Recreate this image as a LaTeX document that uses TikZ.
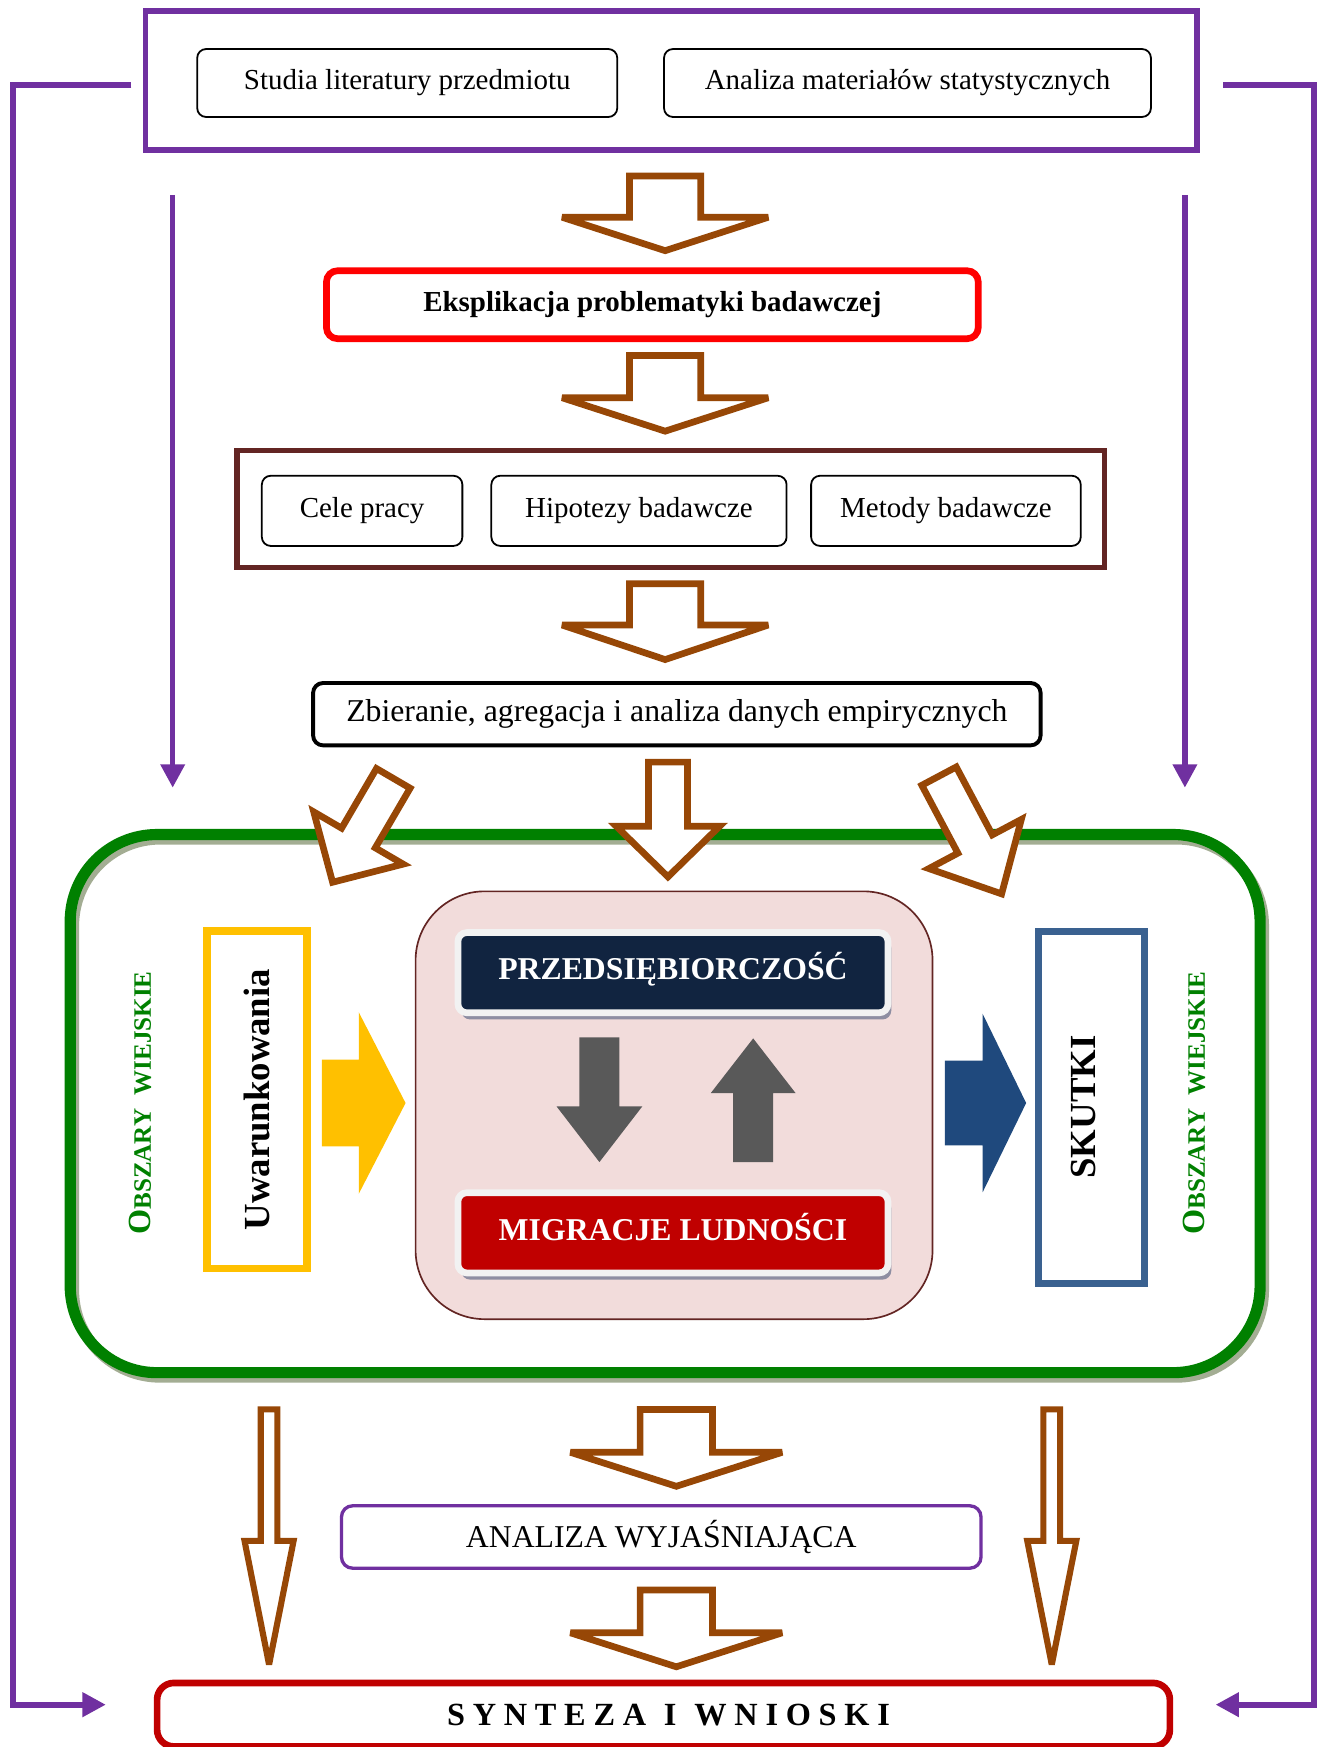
\documentclass[tikz,border=0pt]{standalone}
\usepackage{fontspec}
\setmainfont{Liberation Serif}
\newfontfamily\spacedfont[LetterSpace=24]{Liberation Serif}
\usetikzlibrary{shadows,arrows.meta}

\definecolor{purp}{HTML}{7030A0}
\definecolor{brownar}{HTML}{974706}
\definecolor{brightred}{HTML}{FF0000}
\definecolor{darkred}{HTML}{C00000}
\definecolor{maroon}{HTML}{632523}
\definecolor{grn}{HTML}{008000}
\definecolor{grnshadow}{HTML}{A3AD93}
\definecolor{yel}{HTML}{FFC000}
\definecolor{bluear}{HTML}{1F497D}
\definecolor{bluebox}{HTML}{3A6190}
\definecolor{navy}{HTML}{112440}
\definecolor{pinkfill}{HTML}{F2DCDB}
\definecolor{grayar}{HTML}{595959}
\definecolor{framegray}{HTML}{F2F2F2}
\definecolor{shadowgray}{HTML}{8E8EA2}

% #1 style, #2 x, #3 y (tail centre), #4 angle, #5 length, #6 shaft width, #7 head width, #8 head length
\newcommand{\blockarrow}[8][]{%
  \begin{scope}[shift={(#2,#3)}, rotate=#4]
    \path[#1] (0,{-(#6)/2}) -- ({#5-#8},{-(#6)/2}) -- ({#5-#8},{-(#7)/2}) -- (#5,0)
      -- ({#5-#8},{(#7)/2}) -- ({#5-#8},{(#6)/2}) -- (0,{(#6)/2}) -- cycle;
  \end{scope}}

\begin{document}
\begin{tikzpicture}[x=1pt,y=-1pt,
  smallbox/.style={draw=black, line width=1.6pt, rounded corners=8pt, fill=white, inner sep=0pt,
    minimum height=63pt, font=\fontsize{26}{30}\selectfont},
  navybox/.style={draw=framegray, line width=6pt, rounded corners=8pt, minimum width=386pt,
    minimum height=72pt, inner sep=0pt, text=white, text height=13pt, text depth=0pt,
    font=\bfseries\fontsize{28.5}{32}\selectfont,
    drop shadow={shadow xshift=3pt, shadow yshift=-6pt, fill=shadowgray, opacity=1}},
  brownarrow/.style={draw=brownar, line width=6pt, fill=white, line join=miter, miter limit=4},
  purpline/.style={draw=purp, line width=5.5pt, line join=miter, -{Triangle[length=21pt,width=21pt]}},
  sidetext/.style={rotate=90, text=grn, inner sep=0pt, font=\bfseries}
]
\useasboundingbox (0,0) rectangle (1182,1568);

% top
\node[draw=purp, line width=5pt, minimum width=944pt, minimum height=124.5pt, inner sep=0pt] (sources) at (602.5,72.25) {};
\node[smallbox, minimum width=377pt, minimum height=61pt] (studia) at (365.5,74.5) {Studia literatury przedmiotu};
\node[smallbox, minimum width=437pt, minimum height=61pt] (analiza) at (814.5,74.5) {Analiza materiałów statystycznych};

\node[draw=brightred, line width=6pt, rounded corners=10pt, minimum width=585pt, minimum height=61pt, inner sep=0pt,
  font=\bfseries\fontsize{26}{30}\selectfont] (eks) at (585.5,273.5) {Eksplikacja problematyki badawczej};

\node[draw=maroon, line width=5pt, minimum width=779pt, minimum height=105pt, inner sep=0pt] (plan) at (602,457) {};
\node[smallbox, minimum width=180pt] (cele) at (325,458.5) {Cele pracy};
\node[smallbox, minimum width=265pt] (hipo) at (573.5,458.5) {Hipotezy badawcze};
\node[smallbox, minimum width=242pt] (meto) at (849,458.5) {Metody badawcze};

\node[draw=black, line width=3.5pt, rounded corners=9pt, minimum width=653pt, minimum height=56pt, inner sep=0pt,
  font=\fontsize{28.5}{32}\selectfont] (dane) at (607.5,641) {Zbieranie, agregacja i analiza danych empirycznych};

% green area
\draw[grnshadow, line width=10pt, rounded corners=78pt] (66,753) rectangle (1134,1236);
\node[draw=grn, line width=10pt, rounded corners=78pt, minimum width=1068pt, minimum height=483pt, inner sep=0pt] (area) at (597,990.5) {};

\node[draw=maroon, line width=1.5pt, fill=pinkfill, rounded corners=62pt, minimum width=464pt, minimum height=384pt, inner sep=0pt] (core) at (605,992) {};
\node[navybox, fill=navy] (przed) at (604,873) {PRZEDSIĘBIORCZOŚĆ};
\node[navybox, fill=darkred] (migr) at (604,1106.5) {MIGRACJE LUDNOŚCI};

\node[draw=yel, line width=7pt, minimum width=303pt, minimum height=90pt, inner sep=0pt, rotate=90,
  font=\bfseries\fontsize{33}{36}\selectfont] (uwar) at (230.5,987) {Uwarunkowania};
\node[draw=bluebox, line width=6.5pt, minimum width=316pt, minimum height=95pt, inner sep=0pt, rotate=90] (skutki) at (979.5,994) {};
\node[rotate=90, inner sep=0pt, font=\bfseries\fontsize{33}{36}\selectfont] (skutkitxt) at (972.5,993.5) {SKUTKI};

\node[sidetext] (obl) at (126,990) {\fontsize{29}{30}\selectfont O\fontsize{22.5}{30}\selectfont BSZARY\hspace{12pt}WIEJSKIE};
\node[sidetext] (obr) at (1072,990) {\fontsize{29}{30}\selectfont O\fontsize{22.5}{30}\selectfont BSZARY\hspace{12pt}WIEJSKIE};

% solid arrows
\blockarrow[fill=yel]{289}{990}{0}{75}{78}{163}{42}
\blockarrow[fill=bluear]{848}{990}{0}{73}{76}{160}{39}
\blockarrow[fill=grayar]{538}{931}{-90}{112}{36}{77}{50}
\blockarrow[fill=grayar]{676}{1043}{90}{111}{36}{76}{49}

% brown outline arrows
\blockarrow[brownarrow]{597}{158}{-90}{67}{64}{185}{30}
\blockarrow[brownarrow]{597}{319}{-90}{68}{64}{185}{30}
\blockarrow[brownarrow]{597}{524}{-90}{68}{64}{185}{31}
\blockarrow[brownarrow]{599.5}{684}{-90}{103}{35}{93}{45.5}
\blockarrow[brownarrow]{353}{698.6}{-120.3}{108}{35}{93}{46}
\blockarrow[brownarrow]{842.8}{696.6}{-62}{119.7}{35}{94}{50.7}
\blockarrow[brownarrow]{607}{1265}{-90}{69}{65}{190}{30.5}
\blockarrow[brownarrow]{607}{1427}{-90}{69}{65}{190}{30.5}
\blockarrow[brownarrow, line width=5.5pt]{241.5}{1265}{-90}{229}{15}{44}{111}
\blockarrow[brownarrow, line width=5.5pt]{944}{1265}{-90}{229}{15}{44}{111}

% bottom boxes
\node[draw=purp, line width=3pt, rounded corners=10pt, minimum width=574pt, minimum height=56pt, inner sep=0pt,
  font=\fontsize{28.5}{32}\selectfont] (wyj) at (593.5,1379.5) {ANALIZA WYJAŚNIAJĄCA};
\node[draw=darkred, line width=6pt, rounded corners=15pt, minimum width=909pt, minimum height=57pt, inner sep=0pt,
  font=\spacedfont\bfseries\fontsize{29}{34}\selectfont] (synteza) at (595.5,1539) {\kern9pt SYNTEZA\hspace{16pt}I\hspace{16pt}WNIOSKI};

% purple connectors
\coordinate (lA) at (118,76);
\coordinate (lB) at (95,1530);
\coordinate (rA) at (1098,76);
\coordinate (rB) at (1091,1530);
\coordinate (ilA) at (155,175);
\coordinate (ilB) at (155,707);
\coordinate (irA) at (1063.5,175);
\coordinate (irB) at (1063.5,707);
\draw[purpline] (lA) -- (12,76) -- (12,1530) -- (lB);
\draw[purpline] (rA) -- (1179,76) -- (1179,1530) -- (rB);
\draw[purpline, line width=5pt] (ilA) -- (ilB);
\draw[purpline, line width=5pt] (irA) -- (irB);
\end{tikzpicture}
\end{document}
